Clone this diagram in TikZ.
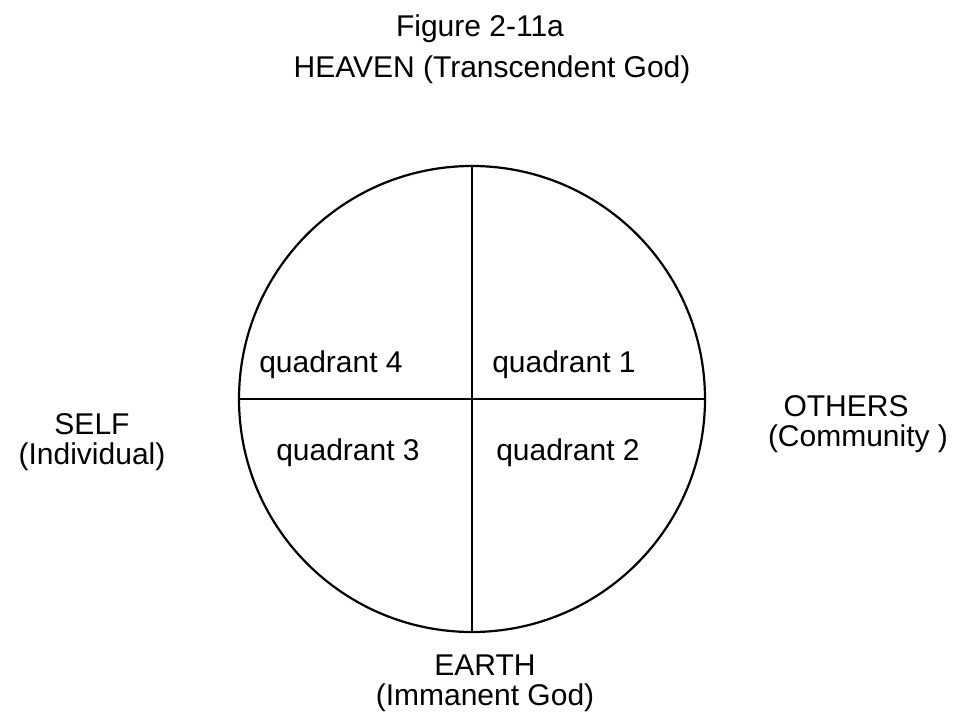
\documentclass[tikz,border=0pt]{standalone}
\usepackage{fontspec}
\setmainfont{Liberation Sans}
\tikzset{
  lbl/.style={font=\fontsize{30}{34}\selectfont, inner sep=0pt, anchor=base},
  rim/.style={line width=2.2pt}
}
\begin{document}
\begin{tikzpicture}[x=1pt,y=1pt]
\useasboundingbox (0,0) rectangle (953,713);

\node[lbl] (fig) at (480,676) {Figure 2-11a};
\node[lbl] (heaven) at (492,635) {HEAVEN (Transcendent God)};

\node[rim, draw, circle, inner sep=0pt, minimum size=466pt] (disc) at (472,314) {};
\draw[rim] (disc.north) -- (disc.south);
\draw[rim] (disc.west) -- (disc.east);

\node[lbl] (q4) at (331,340) {quadrant 4};
\node[lbl] (q1) at (564,340) {quadrant 1};
\node[lbl] (q3) at (348,253) {quadrant 3};
\node[lbl] (q2) at (568,253) {quadrant 2};

\node[lbl] (self) at (92,278) {SELF};
\node[lbl] (selfsub) at (92,249) {(Individual)};

\node[lbl] (others) at (846,296) {OTHERS};
\node[lbl] (otherssub) at (858,266) {(Community )};

\node[lbl] (earth) at (485,38) {EARTH};
\node[lbl] (earthsub) at (485,8) {(Immanent God)};
\end{tikzpicture}
\end{document}
